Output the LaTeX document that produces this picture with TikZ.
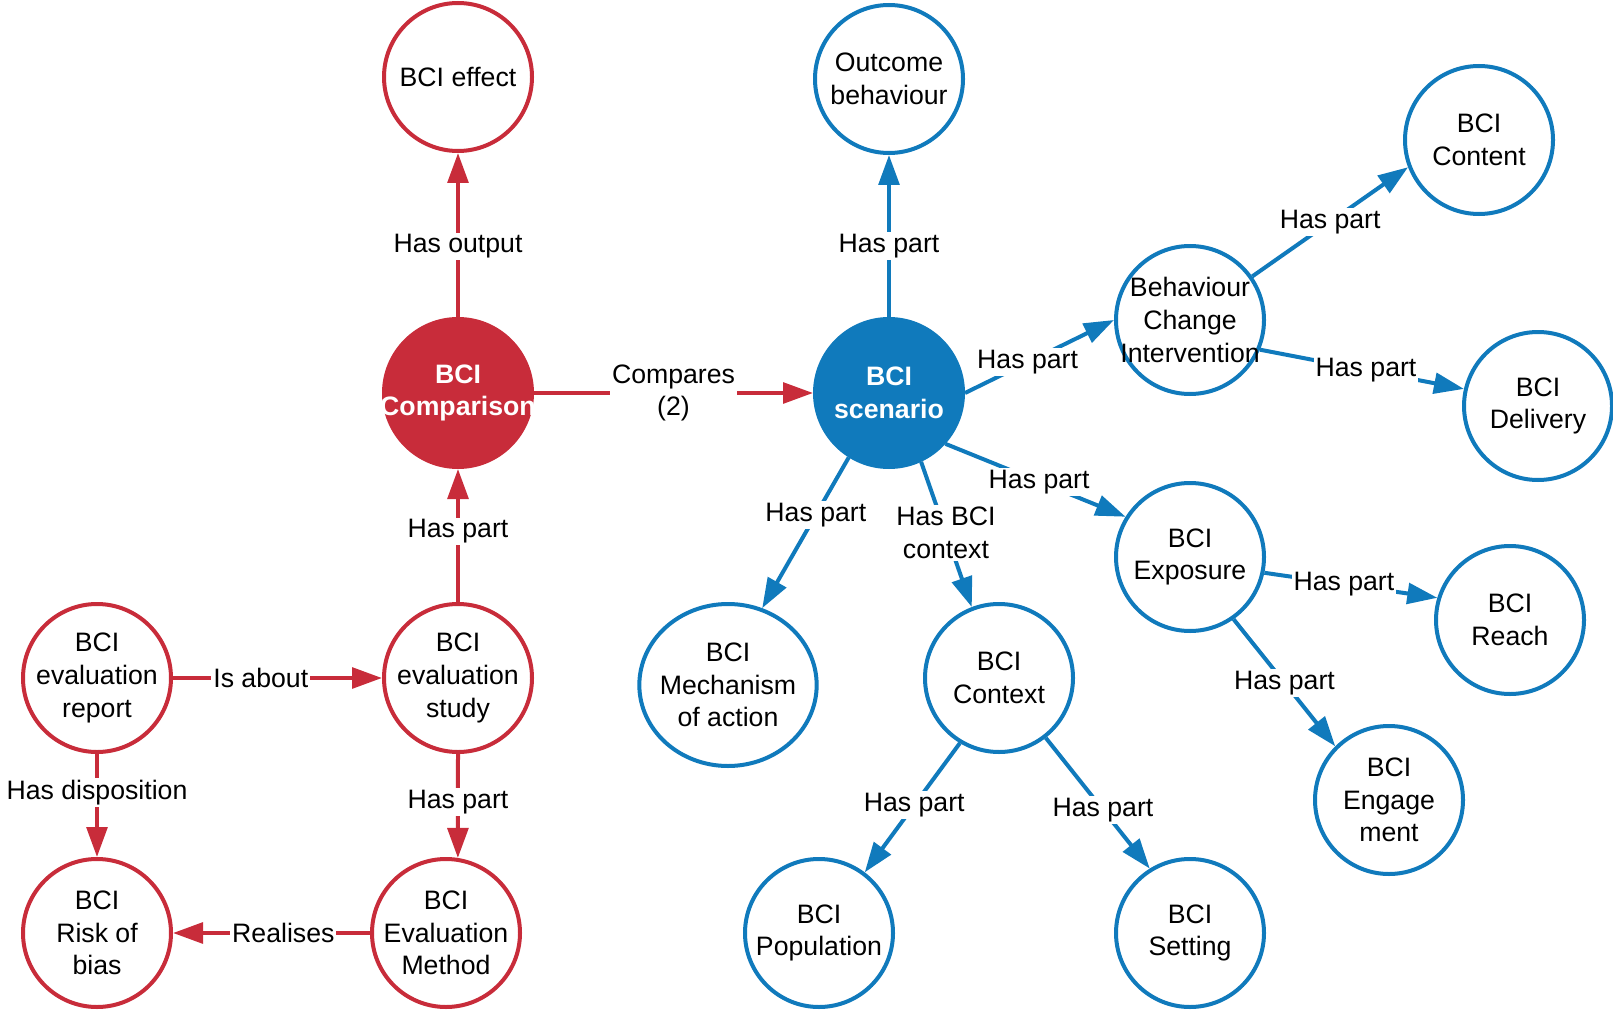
\documentclass[tikz,border=0pt]{standalone}
\usepackage{fontspec}
\setmainfont{Liberation Sans}
\usetikzlibrary{arrows.meta,shapes.geometric}
\definecolor{bcired}{RGB}{200,44,58}
\definecolor{bciblue}{RGB}{16,122,188}

\begin{document}
\begin{tikzpicture}[x=0.75pt,y=0.75pt,yscale=-1,xscale=1,
    every node/.style={font=\fontsize{20}{24.5}\selectfont, align=center},
    ring/.style={circle, line width=3pt, minimum size=111pt, inner sep=-30pt, fill=white},
    redring/.style={ring, draw=bcired},
    bluering/.style={ring, draw=bciblue},
    redhub/.style={ring, draw=bcired, fill=bcired, text=white, font=\fontsize{20}{24.5}\selectfont\bfseries},
    bluehub/.style={ring, draw=bciblue, fill=bciblue, text=white, font=\fontsize{20}{24.5}\selectfont\bfseries},
    redarr/.style={draw=bcired, line width=3pt, -{Triangle[length=22.5pt,width=15.5pt]}},
    bluearr/.style={draw=bciblue, line width=3pt, -{Triangle[length=22.5pt,width=15.5pt]}},
    lbl/.style={fill=white, inner sep=1.5pt, text=black}]
    \useasboundingbox (0,0) rectangle (1613,1013);

    % Nodes: comparison side
    \node [redring] (effect) at (458,77) {BCI effect};
    \node [redhub] (comparison) at (458,393) {BCI\\Comparison};
    \node [redring] (report) at (97,678) {BCI\\evaluation\\report};
    \node [redring] (study) at (458,678) {BCI\\evaluation\\study};
    \node [redring] (risk) at (97,933) {BCI\\Risk of\\bias};
    \node [redring] (method) at (446,933) {BCI\\Evaluation\\Method};

    % Nodes: scenario side
    \node [bluering] (outcome) at (889,79) {Outcome\\behaviour};
    \node [bluehub] (scenario) at (889,393) {BCI\\scenario};
    \node [bluering] (bci) at (1190,320) {Behaviour\\Change\\Intervention};
    \node [bluering] (content) at (1479,140) {BCI\\Content};
    \node [bluering] (delivery) at (1538,406) {BCI\\Delivery};
    \node [bluering] (exposure) at (1190,557) {BCI\\Exposure};
    \node [bluering] (reach) at (1510,620) {BCI\\Reach};
    \node [bluering] (engagement) at (1389,800) {BCI\\Engage\\ment};
    \node [bluering, ellipse, minimum width=133pt, minimum height=121.5pt] (mechanism) at (728,685) {BCI\\Mechanism\\of action};
    \node [bluering] (context) at (999,678) {BCI\\Context};
    \node [bluering] (population) at (819,933) {BCI\\Population};
    \node [bluering] (setting) at (1190,933) {BCI\\Setting};

    % Connectors: red
    \draw [redarr] (comparison) -- node [lbl, pos=0.43] {Has output} (effect);
    \draw [redarr] (comparison) -- node [lbl] {Compares\\(2)} (scenario);
    \draw [redarr] (study) -- node [lbl, pos=0.53] {Has part} (comparison);
    \draw [redarr] (report) -- node [lbl, pos=0.42] {Is about} (study);
    \draw [redarr] (report) -- node [lbl, pos=0.37] {Has disposition} (risk);
    \draw [redarr] (study.south) -- node [lbl, pos=0.46] {Has part} (method.81);
    \draw [redarr] (method) -- node [lbl, pos=0.44] {Realises} (risk);

    % Connectors: blue
    \draw [bluearr] (scenario) -- node [lbl, pos=0.44] {Has part} (outcome);
    \draw [bluearr] (scenario.east) -- node [lbl, pos=0.42] {Has part} (bci.west);
    \draw [bluearr] (bci.35) -- node [lbl, pos=0.5] {Has part} (content.201);
    \draw [bluearr] (bci.-23) -- node [lbl, pos=0.52] {Has part} (delivery.167);
    \draw [bluearr] (scenario.-122) -- node [lbl, pos=0.38] {Has part} (mechanism.66);
    \draw [bluearr] (scenario.-65) -- node [lbl, pos=0.49] {Has BCI\\context} (context.111);
    \draw [bluearr] (scenario.-42) -- node [lbl, pos=0.52] {Has part} (exposure.148);
    \draw [bluearr] (exposure.-12) -- node [lbl, pos=0.46] {Has part} (reach.163);
    \draw [bluearr] (exposure.-55) -- node [lbl, pos=0.5] {Has part} (engagement.135);
    \draw [bluearr] (context.-121) -- node [lbl, pos=0.48] {Has part} (population.53);
    \draw [bluearr] (context.-52) -- node [lbl, pos=0.55] {Has part} (setting.122);
\end{tikzpicture}
\end{document}
